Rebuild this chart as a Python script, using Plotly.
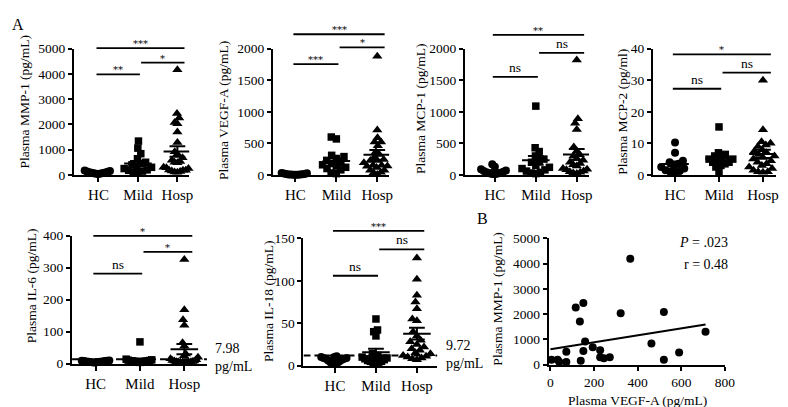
import numpy as np
import plotly.graph_objects as go

# ---------------- data ----------------
categories = ["HC", "Mild", "Hosp"]

mmp1_hc = [170, 150, 130, 120, 100, 90, 80, 70, 60, 50, 40, 30]
mmp1_mild = [1340, 1060, 840, 640, 500, 450, 400, 350, 300, 250, 200, 180, 150, 100, 80]
mmp1_hosp = [4170, 2430, 2250, 2080, 2030, 1700, 1280, 920, 830, 680, 580, 530,
             500, 480, 300, 280, 250, 190, 180, 180, 150, 130, 110, 100]
mmp1_ticks = [0, 1000, 2000, 3000, 4000, 5000]
mmp1_sig_levels = [3980, 4450, 5025]
mmp1_sig_labels = ["**", "*", "***"]

vegf_hc = [30, 25, 20, 15, 12, 10, 8, 6, 5, 4, 3, 2]
vegf_mild = [600, 570, 310, 290, 260, 230, 200, 180, 160, 140, 120, 100, 80, 30, 20]
vegf_hosp = [1880, 711, 590, 520, 520, 463, 366, 322, 272, 245, 228, 228, 194, 159,
             151, 151, 139, 135, 116, 73, 73, 41, 33, 5]
vegf_ticks = [0, 500, 1000, 1500, 2000]
vegf_sig_levels = [1756, 2020, 2229]
vegf_sig_labels = ["***", "*", "***"]

mcp1_hc = [170, 130, 90, 70, 60, 50, 40, 30, 25, 20, 15, 10]
mcp1_mild = [1090, 430, 370, 300, 250, 230, 200, 150, 120, 100, 80, 60, 40, 30, 20]
mcp1_hosp = [1820, 890, 820, 720, 440, 380, 320, 300, 260, 230, 200, 180, 160, 140,
             120, 100, 90, 80, 60, 50, 40, 30, 20]
mcp1_ticks = [0, 500, 1000, 1500, 2000]
mcp1_sig_levels = [1553, 1934, 2218]
mcp1_sig_labels = ["ns", "ns", "**"]

mcp2_hc = [10.3, 7, 4.5, 4, 3.5, 3, 2.5, 2, 1.5, 1.2, 1, 0.8]
mcp2_mild = [15.2, 7, 6.5, 6, 5.5, 5, 5, 4.5, 4, 4, 3.5, 3, 2.5, 1]
mcp2_hosp = [30, 14.3, 10.5, 10, 9.5, 9, 8, 7.5, 7, 6.5, 6, 5.5, 5, 4.5, 4, 3.5, 3,
             2.5, 2, 1.5, 1, 1, 0.8]
mcp2_ticks = [0, 10, 20, 30, 40]
mcp2_sig_levels = [27.3, 32.4, 38.2]
mcp2_sig_labels = ["ns", "ns", "*"]

il6_hc = [10, 9, 9, 8, 8, 7, 7, 6, 6, 5, 5, 4, 4]
il6_mild = [68, 14, 12, 11, 10, 9, 9, 8, 8, 7, 6, 6, 5, 5, 4]
il6_hosp = [325, 168, 137, 120, 65, 55, 30, 25, 20, 15, 12, 10, 8, 8, 7, 6, 5, 5, 5,
            5, 4, 4, 3]
il6_ticks = [0, 100, 200, 300, 400]
il6_sig_levels = [281, 349, 399]
il6_sig_labels = ["ns", "*", "*"]
il6_cutoff_label = "7.98"
il6_cutoff_line = 14

il18_hc = [11, 10, 10, 9, 9, 8, 8, 7, 6, 5, 4, 3, 2, 2]
il18_mild = [55, 42, 40, 35, 14, 12, 11, 10, 9, 8, 7, 6, 5, 5, 4, 3, 3]
il18_hosp = [127, 102, 83, 75, 67, 55, 53, 40, 35, 30, 28, 25, 22, 20, 18, 15, 14, 12,
             11, 10, 9, 8, 7]
il18_ticks = [0, 50, 100, 150]
il18_sig_levels = [106, 137, 159]
il18_sig_labels = ["ns", "ns", "***"]
il18_cutoff_label = "9.72"
il18_cutoff_line = 12

scatter_vegf = [5, 33, 41, 73, 73, 116, 135, 139, 151, 151, 159, 194, 228, 228, 245,
                272, 322, 366, 463, 520, 520, 590, 711]
scatter_mmp1 = [190, 190, 100, 510, 100, 2265, 1705, 150, 2440, 535, 915, 690, 570,
                290, 255, 290, 2035, 4200, 840, 2085, 190, 485, 1300]
fit_line_x = [0, 711]
fit_line_y = [610, 1590]
scatter_xticks = [0, 200, 400, 600, 800]
scatter_yticks = [0, 1000, 2000, 3000, 4000, 5000]
corr_p = ".023"
corr_r = "0.48"

# ---------------- layout helpers ----------------
W, H = 788, 407
FONT = "Liberation Serif, Times New Roman, serif"
STARFONT = "DejaVu Serif, serif"
BLACK = "#000000"
TICKFONT = dict(family=FONT, size=13.5, color=BLACK)
EXT = 22  # extra pixels above each panel for the comparison bars


def px(x):
    return x / W


def py(y):
    return 1 - y / H


def swarm(values, ppv, d, max_half):
    vals = np.asarray(values, float) * ppv
    order = np.argsort(vals)
    placed = []
    offs = np.zeros(len(vals))
    for idx in order:
        y = vals[idx]
        cands = [0.0]
        for (yy, xx) in placed:
            dy = abs(y - yy)
            if dy < d:
                dx = np.sqrt(d * d - dy * dy)
                cands += [xx + dx, xx - dx]
        cands = sorted(cands, key=lambda c: (abs(c), c))
        for c in cands:
            ok = True
            for (yy, xx) in placed:
                if (y - yy) ** 2 + (c - xx) ** 2 < d * d - 1e-6:
                    ok = False
                    break
            if ok:
                offs[idx] = c
                placed.append((y, c))
                break
    m = np.max(np.abs(offs)) if len(offs) else 0
    if m > max_half:
        offs = offs * max_half / m
    return offs


panels = [
    dict(groups=[mmp1_hc, mmp1_mild, mmp1_hosp], ticks=mmp1_ticks,
         levels=mmp1_sig_levels, labels=mmp1_sig_labels,
         title="Plasma MMP-1 (pg/mL)", box=(65, 182, 35, 166), xr=(-0.62, 2.3),
         title_xy=(15, 90)),
    dict(groups=[vegf_hc, vegf_mild, vegf_hosp], ticks=vegf_ticks,
         levels=vegf_sig_levels, labels=vegf_sig_labels,
         title="Plasma VEGF-A (pg/mL)", box=(267, 385, 35, 166), xr=(-0.55, 2.29),
         title_xy=(217, 99)),
    dict(groups=[mcp1_hc, mcp1_mild, mcp1_hosp], ticks=mcp1_ticks,
         levels=mcp1_sig_levels, labels=mcp1_sig_labels,
         title="Plasma MCP-1 (pg/mL)", box=(462, 588, 35, 166), xr=(-0.73, 2.3),
         title_xy=(417, 97)),
    dict(groups=[mcp2_hc, mcp2_mild, mcp2_hosp], ticks=mcp2_ticks,
         levels=mcp2_sig_levels, labels=mcp2_sig_labels,
         title="Plasma MCP-2 (pg/ml)", box=(653, 778, 35, 166), xr=(-0.5, 2.3),
         title_xy=(622, 101)),
    dict(groups=[il6_hc, il6_mild, il6_hosp], ticks=il6_ticks,
         levels=il6_sig_levels, labels=il6_sig_labels,
         title="Plasma IL-6 (pg/mL)", box=(63, 200, 229, 362), xr=(-0.53, 2.51),
         title_xy=(22, 281), cutoff=(il6_cutoff_line, il6_cutoff_label, 206, 356)),
    dict(groups=[il18_hc, il18_mild, il18_hosp], ticks=il18_ticks,
         levels=il18_sig_levels, labels=il18_sig_labels,
         title="Plasma IL-18 (pg/mL)", box=(298, 434, 232, 364), xr=(-0.77, 2.5),
         title_xy=(262, 298), cutoff=(il18_cutoff_line, il18_cutoff_label, 441, 352)),
]

symbols = ["circle", "square", "triangle-up"]
sizes = [8, 7.5, 9]
pairs = [(0, 1), (1, 2), (0, 2)]

fig = go.Figure()
annotations = []
shapes = []
axes = {}

for i, p in enumerate(panels, start=1):
    left, right, top, bottom = p["box"]
    x0r, x1r = p["xr"]
    ymax = p["ticks"][-1]
    ppc = (right - left) / (x1r - x0r)
    ppv = (bottom - top) / ymax
    xn = "x" if i == 1 else f"x{i}"
    yn = "y" if i == 1 else f"y{i}"
    xk = "xaxis" if i == 1 else f"xaxis{i}"
    yk = "yaxis" if i == 1 else f"yaxis{i}"
    j = 7 + i
    yen, yek = f"y{j}", f"yaxis{j}"  # extended, invisible axis for comparison bars
    ymax_ext = ymax * (bottom - (top - EXT)) / (bottom - top)

    for g, vals in enumerate(p["groups"]):
        offs = swarm(vals, ppv, 7.4, 14) / ppc
        fig.add_trace(go.Scatter(
            x=g + offs, y=vals, mode="markers", xaxis=xn, yaxis=yn,
            marker=dict(symbol=symbols[g], size=sizes[g], color=BLACK,
                        line=dict(width=0)),
            cliponaxis=False, showlegend=False, hoverinfo="skip"))
    for g, vals in enumerate(p["groups"]):
        v = np.asarray(vals, float)
        m = v.mean()
        s = v.std(ddof=1) / np.sqrt(len(v))
        hw = 14 / ppc
        cw = 8 / ppc
        xs = [g - hw, g + hw, None, g, g, None, g - cw, g + cw, None, g - cw, g + cw]
        ys = [m, m, None, m - s, m + s, None, m + s, m + s, None, m - s, m - s]
        fig.add_trace(go.Scatter(
            x=xs, y=ys, mode="lines", xaxis=xn, yaxis=yn,
            line=dict(color=BLACK, width=2), showlegend=False, hoverinfo="skip"))

    axes[xk] = dict(domain=[px(left), px(right)], range=[x0r, x1r], anchor=yn,
                    tickmode="array", tickvals=[0, 1, 2], ticktext=categories,
                    ticks="outside", ticklen=5, tickwidth=2, tickcolor=BLACK,
                    showline=True, linewidth=2, linecolor=BLACK,
                    showgrid=False, zeroline=False,
                    tickfont=dict(family=FONT, size=15, color=BLACK), fixedrange=True)
    axes[yk] = dict(domain=[py(bottom), py(top)], range=[0, ymax], anchor=xn,
                    tickmode="array", tickvals=p["ticks"],
                    ticktext=[str(t) for t in p["ticks"]],
                    ticks="outside", ticklen=4, tickwidth=2, tickcolor=BLACK,
                    showline=True, linewidth=2, linecolor=BLACK,
                    showgrid=False, zeroline=False, tickfont=TICKFONT, fixedrange=True)
    axes[yek] = dict(domain=[py(bottom), py(top - EXT)], range=[0, ymax_ext], anchor=xn,
                     visible=False, showgrid=False, zeroline=False, fixedrange=True)

    # significance bars
    bx, by = [], []
    for (a, b), lvl, lab in zip(pairs, p["levels"], p["labels"]):
        xa = a + (-0.05 if a == 0 else 0.08)
        xb = b + (0.05 if b == 1 else 0.18)
        bx += [xa, xb, None]
        by += [lvl, lvl, None]
        is_star = "*" in lab
        annotations.append(dict(
            x=(xa + xb) / 2, y=lvl, xref=xn, yref=yen, text=lab, showarrow=False,
            xanchor="center", yanchor="bottom", yshift=-3 if is_star else 0,
            font=dict(family=STARFONT if is_star else FONT,
                      size=10 if is_star else 13.5, color=BLACK)))
    fig.add_trace(go.Scatter(
        x=bx, y=by, mode="lines", xaxis=xn, yaxis=yen,
        line=dict(color=BLACK, width=1.8), showlegend=False, hoverinfo="skip"))

    # axis title
    tx, ty = p["title_xy"]
    annotations.append(dict(
        x=px(tx), y=py(ty), xref="paper", yref="paper", text=p["title"],
        showarrow=False, textangle=-90, xanchor="center", yanchor="middle",
        font=dict(family=FONT, size=13.5, color=BLACK)))

    if "cutoff" in p:
        lvl, lab, lx, ly = p["cutoff"]
        shapes.append(dict(type="line", xref=xn, yref=yn, x0=x0r, x1=x1r, y0=lvl, y1=lvl,
                           line=dict(color=BLACK, width=2, dash="7px,4px"), layer="above"))
        annotations.append(dict(
            x=px(lx), y=py(ly), xref="paper", yref="paper",
            text=f"{lab}<br>pg/mL", showarrow=False, align="left",
            xanchor="left", yanchor="middle",
            font=dict(family=FONT, size=14, color=BLACK)))

# ---------------- panel B scatter ----------------
fig.add_trace(go.Scatter(
    x=scatter_vegf, y=scatter_mmp1, mode="markers", xaxis="x7", yaxis="y7",
    marker=dict(symbol="circle", size=8, color=BLACK), cliponaxis=False,
    showlegend=False, hoverinfo="skip"))
fig.add_trace(go.Scatter(
    x=fit_line_x, y=fit_line_y, mode="lines", xaxis="x7", yaxis="y7",
    line=dict(color=BLACK, width=2), showlegend=False, hoverinfo="skip"))

axes["xaxis7"] = dict(domain=[px(547), px(726)], range=[-8, 800], anchor="y7",
                      tickmode="array", tickvals=scatter_xticks,
                      ticktext=[str(t) for t in scatter_xticks],
                      ticks="outside", ticklen=4, tickwidth=2, tickcolor=BLACK,
                      showline=True, linewidth=2, linecolor=BLACK,
                      showgrid=False, zeroline=False, tickfont=TICKFONT, fixedrange=True)
axes["yaxis7"] = dict(domain=[py(363), py(232)], range=[0, 5000], anchor="x7",
                      tickmode="array", tickvals=scatter_yticks,
                      ticktext=[str(t) for t in scatter_yticks],
                      ticks="outside", ticklen=4, tickwidth=2, tickcolor=BLACK,
                      showline=True, linewidth=2, linecolor=BLACK,
                      showgrid=False, zeroline=False, tickfont=TICKFONT, fixedrange=True)


def label(x, y, text, size=13.5, angle=0, xanchor="center"):
    return dict(x=px(x), y=py(y), xref="paper", yref="paper", text=text,
                showarrow=False, textangle=angle, xanchor=xanchor, yanchor="middle",
                font=dict(family=FONT, size=size, color=BLACK))


annotations += [
    label(495, 294, "Plasma MMP-1 (pg/mL)", angle=-90),
    label(637, 400, "Plasma VEGF-A (pg/mL)"),
    label(731, 236, f"<i>P</i> = {corr_p}", size=14, xanchor="right"),
    label(731, 259, f"r = {corr_r}", size=14, xanchor="right"),
    label(8, 10, "A", size=16),
    label(480, 211, "B", size=16),
]

fig.update_layout(
    width=W, height=H, autosize=False,
    margin=dict(l=0, r=0, t=0, b=0),
    paper_bgcolor="white", plot_bgcolor="rgba(0,0,0,0)",
    showlegend=False,
    annotations=annotations, shapes=shapes,
    **axes)

fig.write_html("out.html")
